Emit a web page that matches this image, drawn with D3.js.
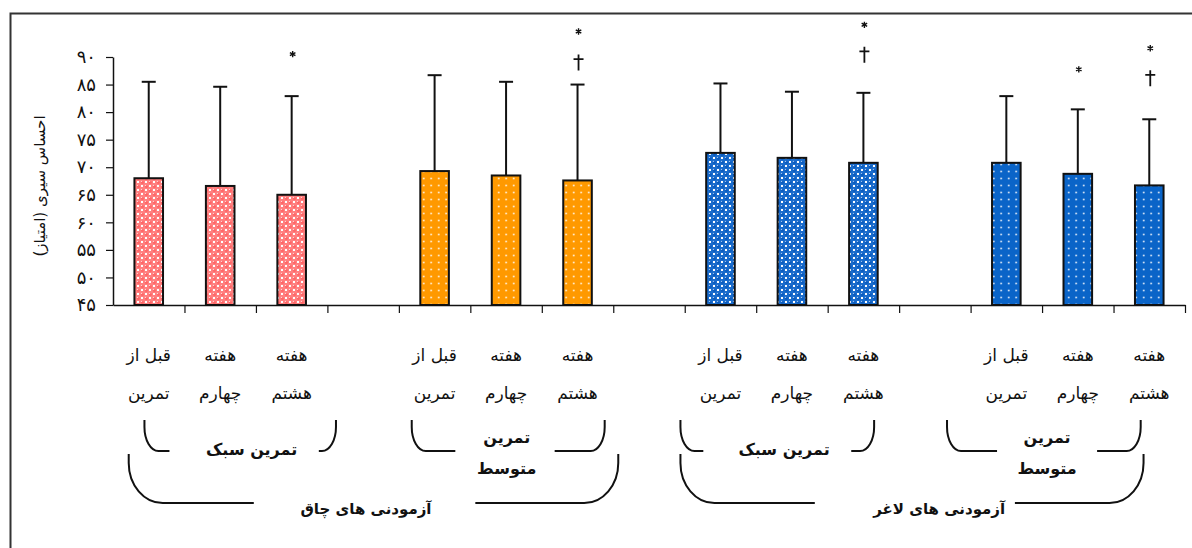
<!DOCTYPE html>
<html>
<head>
<meta charset="utf-8">
<script src="https://cdn.jsdelivr.net/npm/d3@7/dist/d3.min.js"></script>
<style>
	body { margin: 0; background: #fff; }
	svg { display: block; font-family: 'DejaVu Sans', sans-serif; }
</style>
</head>
<body>
<div id="chart"></div>
<script>
/*

*	Chart values

*/
var conditionLabels = [['قبل از', 'تمرین'], ['هفته', 'چهارم'], ['هفته', 'هشتم']];

var obeseLightMean = [68.0, 66.6, 65.0];
var obeseLightSd = [17.5, 18.0, 17.9];
var obeseModerateMean = [69.3, 68.5, 67.6];
var obeseModerateSd = [17.4, 17.0, 17.4];
var leanLightMean = [72.6, 71.7, 70.8];
var leanLightSd = [12.6, 12.0, 12.7];
var leanModerateMean = [70.8, 68.8, 66.7];
var leanModerateSd = [12.1, 11.7, 12.0];

var obeseLightSig = ['', '', '*'];
var obeseModerateSig = ['', '', '†*'];
var leanLightSig = ['', '', '†*'];
var leanModerateSig = ['', '*', '†*'];

var trainingLabels = [['تمرین سبک'], ['تمرین', 'متوسط'], ['تمرین سبک'], ['تمرین', 'متوسط']];
var subjectLabels = ['آزمودنی های چاق', 'آزمودنی های لاغر'];
var yTicks = [45, 50, 55, 60, 65, 70, 75, 80, 85, 90];
var yTitle = 'احساس سیری (امتیاز)';

/*

*	Setup

*/
var W = 1192, H = 548;
var svg = d3.select('#chart').append('svg').attr('width', W).attr('height', H);

var defs = svg.append('defs');

function spherePattern(id, base, dark, light) {
	var p = defs.append('pattern').attr('id', id)
		.attr('patternUnits', 'userSpaceOnUse').attr('width', 8).attr('height', 8);
	p.append('rect').attr('width', 8).attr('height', 8).attr('fill', base);
	p.append('rect').attr('x', 5).attr('y', 1).attr('width', 2).attr('height', 2).attr('fill', '#fff');
	p.append('rect').attr('x', 1).attr('y', 5).attr('width', 2).attr('height', 2).attr('fill', '#fff');
	[[2, 2], [6, 6]].forEach(function (c) {
		p.append('circle').attr('cx', c[0] + 0.4).attr('cy', c[1] + 0.5).attr('r', 1.5).attr('fill', dark);
		p.append('circle').attr('cx', c[0] - 0.5).attr('cy', c[1] - 0.6).attr('r', 0.7).attr('fill', light);
	});
}
function dotPattern(id, base) {
	var p = defs.append('pattern').attr('id', id)
		.attr('patternUnits', 'userSpaceOnUse').attr('width', 7.5).attr('height', 7);
	p.append('rect').attr('width', 7.5).attr('height', 7).attr('fill', base);
	p.append('circle').attr('cx', 3.7).attr('cy', 3.5).attr('r', 1).attr('fill', '#fff').attr('opacity', 0.8);
}
spherePattern('pink', '#ff8080', '#ff6666', '#ffd0d0');
dotPattern('orange', '#ff9900');
spherePattern('blueSphere', '#1a6ccc', '#0a5cbf', '#9cc0ee');
dotPattern('blueDot', '#0a64c8');

// outer frame
svg.append('rect').attr('x', 10.5).attr('y', 13.5).attr('width', 1300).attr('height', 700)
	.attr('fill', 'none').attr('stroke', '#333').attr('stroke-width', 2);

var plotLeft = 113, plotRight = 1185, plotTop = 57, plotBottom = 305;
var nSlots = 15;

var x = d3.scaleBand().domain(d3.range(nSlots)).range([plotLeft, plotRight])
	.paddingInner(0.6).paddingOuter(0.3);
var slot = d3.scaleLinear().domain([0, nSlots]).range([plotLeft, plotRight]);
var y = d3.scaleLinear().domain([45, 90]).range([plotBottom, plotTop]);

function fa(n) {
	return String(n).replace(/\d/g, function (c) { return '۰۱۲۳۴۵۶۷۸۹'[c]; });
}

/*

*	Bars data

*/
var groups = [
	{ mean: obeseLightMean, sd: obeseLightSd, sig: obeseLightSig, fill: 'url(#pink)' },
	{ mean: obeseModerateMean, sd: obeseModerateSd, sig: obeseModerateSig, fill: 'url(#orange)' },
	{ mean: leanLightMean, sd: leanLightSd, sig: leanLightSig, fill: 'url(#blueSphere)' },
	{ mean: leanModerateMean, sd: leanModerateSd, sig: leanModerateSig, fill: 'url(#blueDot)' }
];
var bars = [];
groups.forEach(function (g, gi) {
	g.mean.forEach(function (m, ci) {
		bars.push({ slot: gi * 4 + ci, mean: m, sd: g.sd[ci], sig: g.sig[ci], fill: g.fill, cond: ci });
	});
});

/*

*	Axes

*/
var yAxis = d3.axisLeft(y).tickValues(yTicks).tickSize(7).tickSizeOuter(0).tickFormat(fa);
var gy = svg.append('g').attr('transform', 'translate(' + plotLeft + ',0)').call(yAxis);
gy.attr('font-size', 18).attr('font-family', "'DejaVu Sans', sans-serif");
gy.select('.domain').attr('stroke', '#111').attr('stroke-width', 1.5);
gy.selectAll('.tick line').attr('stroke', '#111').attr('stroke-width', 1.2);
gy.selectAll('.tick text').attr('fill', '#111').attr('x', -17);

var xAxis = d3.axisBottom(slot).tickValues(d3.range(1, nSlots + 1)).tickSize(8).tickSizeOuter(0).tickFormat('');
var gx = svg.append('g').attr('transform', 'translate(0,' + plotBottom + ')').call(xAxis);
gx.select('.domain').attr('stroke', '#111').attr('stroke-width', 1.5);
gx.selectAll('.tick line').attr('stroke', '#111').attr('stroke-width', 1.2);

svg.append('text')
	.attr('transform', 'translate(40,' + ((plotTop + plotBottom) / 2 + 5) + ') rotate(-90)')
	.attr('text-anchor', 'middle').attr('dominant-baseline', 'central')
	.attr('direction', 'rtl').attr('font-size', 15).attr('fill', '#111')
	.text(yTitle);

/*

*	Bars, error bars, markers

*/
var capW = 14;
var errs = svg.append('g').attr('stroke', '#111').attr('stroke-width', 2);
errs.selectAll('.stem').data(bars).join('line')
	.attr('x1', function (d) { return x(d.slot) + x.bandwidth() / 2; })
	.attr('x2', function (d) { return x(d.slot) + x.bandwidth() / 2; })
	.attr('y1', function (d) { return y(d.mean); })
	.attr('y2', function (d) { return y(d.mean + d.sd); });
errs.selectAll('.cap').data(bars).join('line')
	.attr('x1', function (d) { return x(d.slot) + x.bandwidth() / 2 - capW / 2; })
	.attr('x2', function (d) { return x(d.slot) + x.bandwidth() / 2 + capW / 2; })
	.attr('y1', function (d) { return y(d.mean + d.sd); })
	.attr('y2', function (d) { return y(d.mean + d.sd); });

svg.append('g').selectAll('rect').data(bars).join('rect')
	.attr('x', function (d) { return x(d.slot); })
	.attr('y', function (d) { return y(d.mean); })
	.attr('width', x.bandwidth())
	.attr('height', function (d) { return plotBottom - y(d.mean); })
	.attr('fill', function (d) { return d.fill; })
	.attr('stroke', '#111').attr('stroke-width', 2);

// marker lift above the error cap, in px, per slot (hand placed in the source)
var markerLift = { 2: [42], 6: [22, 53], 10: [38, 68], 13: [40], 14: [41, 71] };
var star = d3.symbol(d3.symbolAsterisk, 28);
var dagger = 'M0,-8 L0,8 M-5,-3.5 L5,-3.5';
bars.forEach(function (d) {
	if (!d.sig) return;
	d.sig.split('').forEach(function (s, k) {
		var cx = x(d.slot) + x.bandwidth() / 2 + 1;
		var cy = y(d.mean + d.sd) - markerLift[d.slot][k];
		svg.append('path').attr('d', s === '*' ? star() : dagger)
			.attr('transform', 'translate(' + cx + ',' + cy + ')')
			.attr('fill', 'none').attr('stroke', '#111')
			.attr('stroke-width', s === '*' ? 1.4 : 1.8);
	});
});

/*

*	Category labels and brackets

*/
var catG = svg.append('g').attr('font-size', 17).attr('fill', '#111').attr('text-anchor', 'middle');
bars.forEach(function (d) {
	conditionLabels[d.cond].forEach(function (line, k) {
		catG.append('text').attr('direction', 'rtl')
			.attr('x', x(d.slot) + x.bandwidth() / 2)
			.attr('y', 361 + k * 38)
			.text(line);
	});
});

// bracket spans in slot units, drawn by hand in the source
var smallBrackets = [
	{ l: 0.44, r: 3.12, il: 0.79, ir: 2.88, c: 1.94 },
	{ l: 4.18, r: 6.88, il: 4.79, ir: 6.18, c: 5.51 },
	{ l: 7.94, r: 10.65, il: 8.26, ir: 10.33, c: 9.39 },
	{ l: 11.67, r: 14.38, il: 12.37, ir: 13.77, c: 13.07 }
];
var bigBrackets = [
	{ l: 0.22, r: 7.07, il: 1.97, ir: 5.07, c: 3.54 },
	{ l: 7.94, r: 14.42, il: 9.82, ir: 12.62, c: 11.56 }
];

function bracket(b, t, bt, rx, ry) {
	var xl = slot(b.l), xr = slot(b.r);
	var p = 'M' + xl + ',' + t + ' L' + xl + ',' + (bt - ry) +
		' A' + rx + ',' + ry + ' 0 0 0 ' + (xl + rx) + ',' + bt +
		' L' + slot(b.il) + ',' + bt +
		' M' + xr + ',' + t + ' L' + xr + ',' + (bt - ry) +
		' A' + rx + ',' + ry + ' 0 0 1 ' + (xr - rx) + ',' + bt +
		' L' + slot(b.ir) + ',' + bt;
	svg.append('path').attr('d', p).attr('fill', 'none').attr('stroke', '#111').attr('stroke-width', 2);
}
smallBrackets.forEach(function (b, i) {
	bracket(b, 420, 451, 14, 24);
	var lines = trainingLabels[i];
	lines.forEach(function (line, k) {
		svg.append('text').attr('direction', 'rtl')
			.attr('x', slot(b.c))
			.attr('y', lines.length === 1 ? 449 : 437 + k * 31)
			.attr('text-anchor', 'middle').attr('dominant-baseline', 'central')
			.attr('font-size', 16).attr('font-weight', 'bold').attr('fill', '#111')
			.text(line);
	});
});
bigBrackets.forEach(function (b, i) {
	bracket(b, 454, 503, 34, 40);
	svg.append('text').attr('direction', 'rtl')
		.attr('x', slot(b.c)).attr('y', 509)
		.attr('text-anchor', 'middle').attr('dominant-baseline', 'central')
		.attr('font-size', 15).attr('font-weight', 'bold').attr('fill', '#111')
		.text(subjectLabels[i]);
});
</script>
</body>
</html>
